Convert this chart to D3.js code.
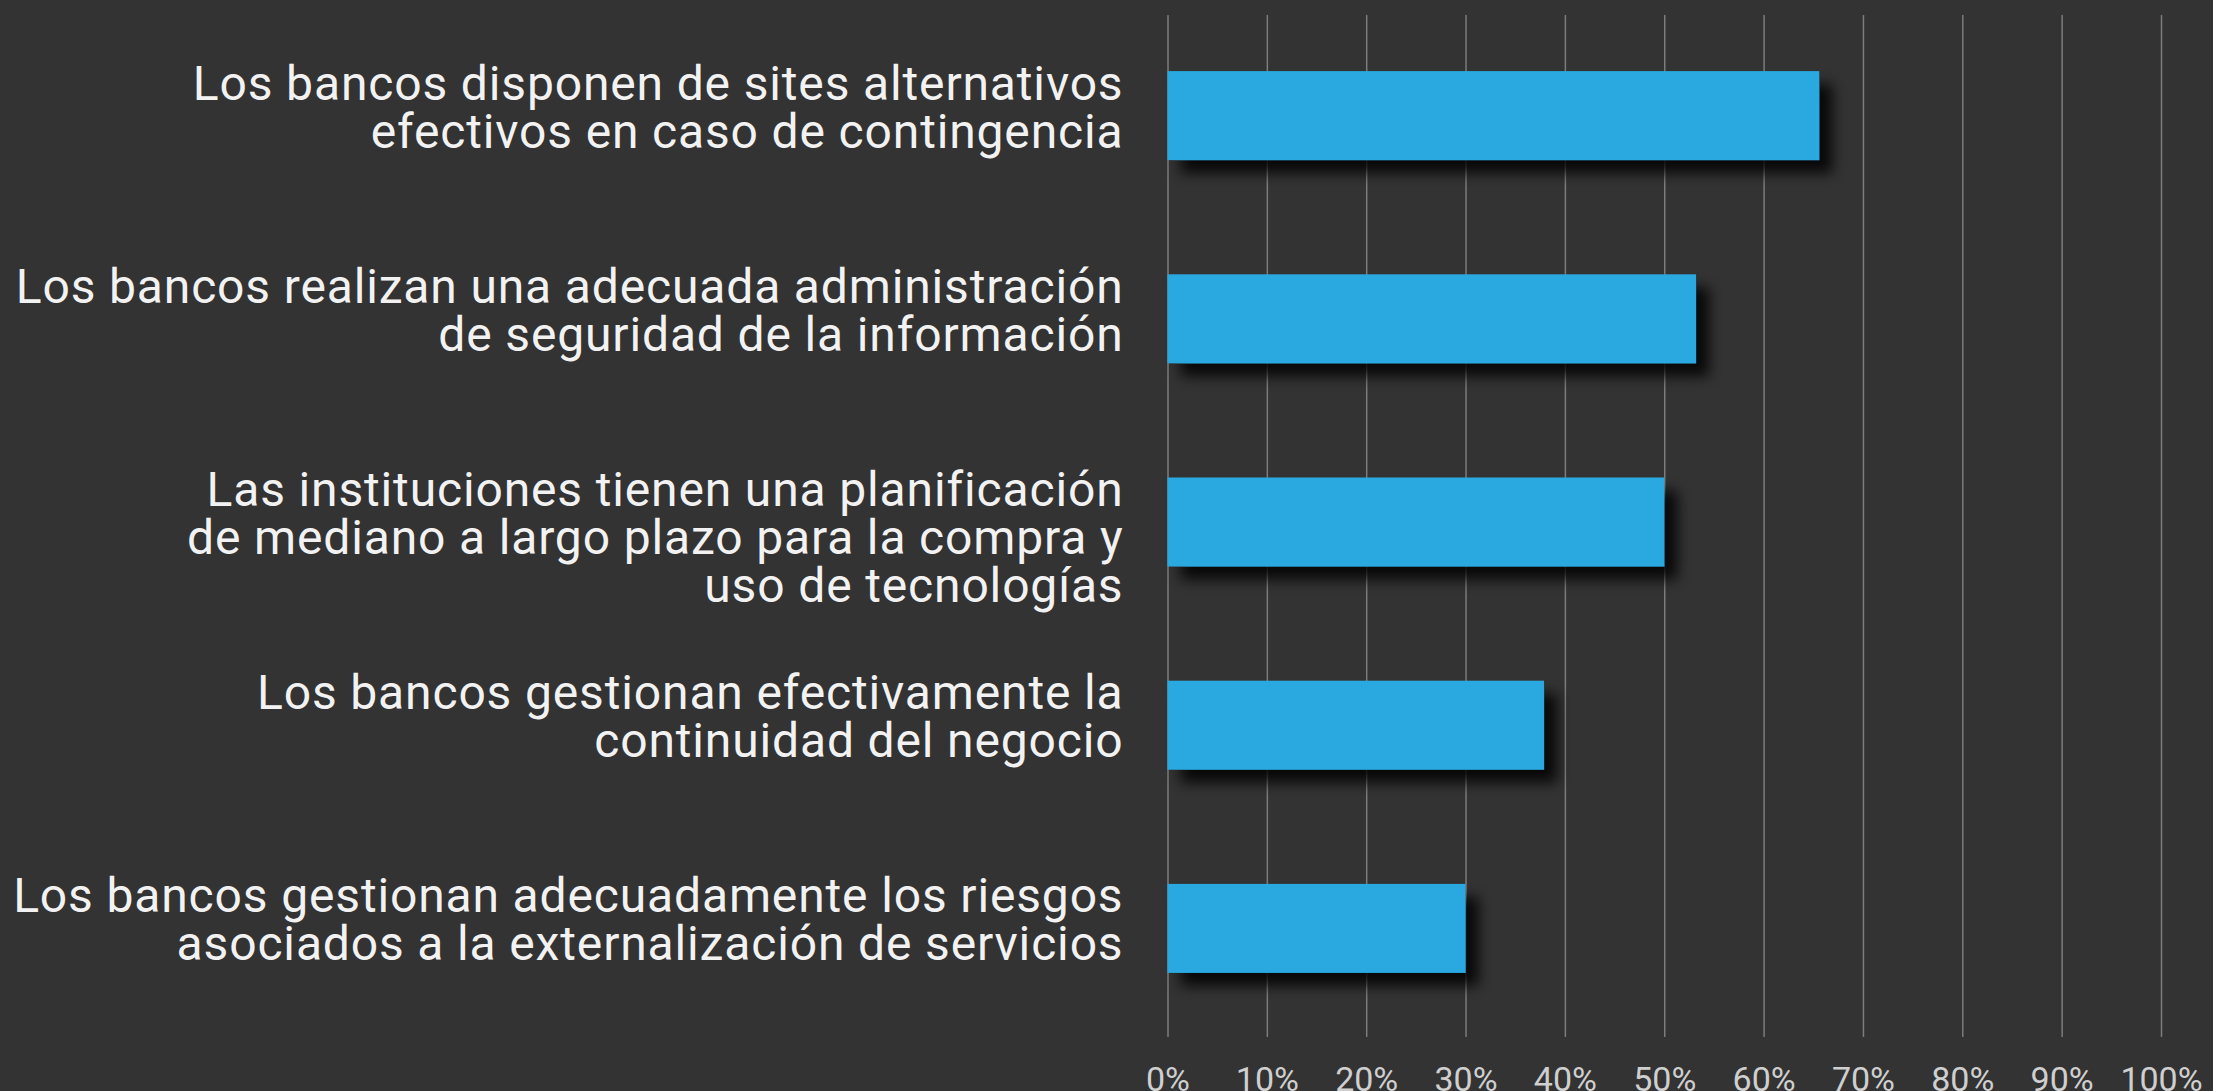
<!DOCTYPE html>
<html lang="es">
<head>
<meta charset="UTF-8">
<title>Bancos</title>
<script src="https://d3js.org/d3.v7.min.js"></script>
<style>
    body{ margin:0; background:#333333; overflow:hidden; }
    svg{ display:block; }
    .grid line{ stroke:#7c7c7c; stroke-width:1.5px; }
    .grid text{ fill:#cfcfcf; font-size:34px; font-family:Roboto, "Liberation Sans", sans-serif; }
    .label{ fill:#f2f2f2; font-size:48px; letter-spacing:0.85px; font-family:Roboto, "Liberation Sans", sans-serif; }
    rect.bar{ fill:#29a9e1; }
</style>
</head>
<body>
<svg width="2213" height="1091"></svg>
<script>
    // label lines per category, top to bottom
    let categories = [
        ["Los bancos disponen de sites alternativos", "efectivos en caso de contingencia"],
        ["Los bancos realizan una adecuada administración", "de seguridad de la información"],
        ["Las instituciones tienen una planificación", "de mediano a largo plazo para la compra y", "uso de tecnologías"],
        ["Los bancos gestionan efectivamente la", "continuidad del negocio"],
        ["Los bancos gestionan adecuadamente los riesgos", "asociados a la externalización de servicios"]
    ];
    let values = [65.6, 53.2, 50.0, 37.9, 30.0];
    let tickValues = [0, 10, 20, 30, 40, 50, 60, 70, 80, 90, 100];

    let svg = d3.select('svg');
    let x0 = 1167.5, x1 = 2161;
    let gridTop = 15, gridBottom = 1037;

    let xScale = d3.scaleLinear().domain([0, 100]).range([x0, x1]);
    let yScale = d3.scaleBand().domain(d3.range(categories.length))
        .range([14, 1030]).paddingInner(0.562).paddingOuter(0.281);

    let defs = svg.append('defs');
    defs.append('filter').attr('id', 'shadow')
        .attr('x', '-10%').attr('y', '-30%').attr('width', '130%').attr('height', '190%')
        .append('feDropShadow')
        .attr('dx', 13).attr('dy', 13).attr('stdDeviation', 7)
        .attr('flood-color', '#000').attr('flood-opacity', 0.85);

    // gridlines + percent labels
    svg.append('g')
        .attr('class', 'grid')
        .attr('transform', 'translate(0,' + gridBottom + ')')
        .call(d3.axisBottom(xScale).tickValues(tickValues)
            .tickSize(-(gridBottom - gridTop)).tickPadding(30)
            .tickFormat(function (d){ return d + '%'; }))
        .call(function (g){ g.select('.domain').remove(); });

    svg.append('g').selectAll('rect')
        .data(values)
        .join('rect')
        .attr('class', 'bar')
        .attr('x', xScale(0))
        .attr('y', function (d, i){ return yScale(i); })
        .attr('width', function (d){ return xScale(d) - xScale(0); })
        .attr('height', yScale.bandwidth())
        .attr('filter', 'url(#shadow)');

    let lineH = 48;
    let labels = svg.append('g').selectAll('text')
        .data(categories)
        .join('text')
        .attr('class', 'label')
        .attr('text-anchor', 'end')
        .attr('y', function (d, i){ return yScale(i) + yScale.bandwidth() / 2 - 16; });
    labels.selectAll('tspan')
        .data(function (d){ return d; })
        .join('tspan')
        .attr('x', x0 - 44)
        .attr('dy', function (d, i){ return i === 0 ? 0 : lineH; })
        .text(function (d){ return d; });
</script>
</body>
</html>
